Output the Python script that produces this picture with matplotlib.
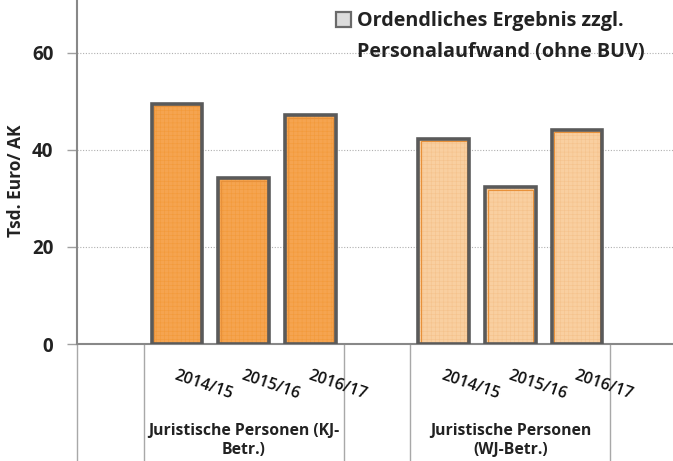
import matplotlib
matplotlib.use("Agg")
import matplotlib.pyplot as plt
from matplotlib.patches import Patch, Rectangle
from matplotlib.legend_handler import HandlerPatch
from matplotlib.transforms import blended_transform_factory

plt.rcParams['font.family'] = ['Open Sans', 'DejaVu Sans']

years = ["2014/15", "2015/16", "2016/17"]
groups = ["Juristische Personen (KJ-\nBetr.)", "Juristische Personen\n(WJ-Betr.)"]
values_kj = [49.5, 34.2, 47.2]
values_wj = [42.3, 32.3, 44.2]
legend_label = "Ordendliches Ergebnis zzgl.\nPersonalaufwand (ohne BUV)"
y_ticks = [0, 20, 40, 60]
y_label = "Tsd. Euro/ AK"

fig = plt.figure(figsize=(6.73, 4.61), dpi=100)
ax = fig.add_axes([77/673, (461-344)/461, 1-77/673, 344/461])

slots_kj = [1, 2, 3]
slots_wj = [5, 6, 7]
width = 0.76
fills = ['#F5A450', '#F9CFA0']
hatch_cols = ['#F39A3A', '#F5C28C']
plt.rcParams['hatch.linewidth'] = 0.4

for slots, vals, fc, hc in [(slots_kj, values_kj, fills[0], hatch_cols[0]),
                            (slots_wj, values_wj, fills[1], hatch_cols[1])]:
    ax.bar(slots, vals, width=width, color=fc, linewidth=0, zorder=3)
    ax.bar(slots, vals, width=width, color='none', edgecolor=hc, linewidth=0, hatch='++++', zorder=3.2)
    ax.bar(slots, [v - 0.55 for v in vals], width=width - 0.075, color='none', edgecolor='#E8913A',
           linewidth=0.8, zorder=3.4)
    ax.bar(slots, vals, width=width, color='none', edgecolor='#5A5A5A', linewidth=2.6, zorder=3.6)

ax.set_xlim(-0.5, 8.44)
ax.set_ylim(0, 70.9)
ax.set_yticks(y_ticks)
ax.set_yticklabels([str(t) for t in y_ticks], fontsize=13.5, fontweight='bold', color='#222222')
ax.tick_params(axis='y', length=7, width=1, color='#A0A0A0', pad=10)
ax.set_xticks([])
ax.grid(axis='y', linestyle=(0, (1, 1.5)), color='#B0B0B0', linewidth=0.8, zorder=0)
for s in ['top', 'right']:
    ax.spines[s].set_visible(False)
ax.spines['left'].set_color('#888888')
ax.spines['left'].set_linewidth(1.5)
ax.spines['bottom'].set_color('#888888')
ax.spines['bottom'].set_linewidth(1.5)

ax.set_ylabel(y_label, fontsize=12.5, fontweight='bold', color='#222222')
ax.yaxis.set_label_coords(-0.087, 0.475)

trans = blended_transform_factory(ax.transData, ax.transAxes)
for xs in [-0.5, 0.5, 3.5, 4.5, 7.5]:
    ax.plot([xs, xs], [0, -117/344], transform=trans, color='#A8A8A8', linewidth=1.0, clip_on=False)

for slots in (slots_kj, slots_wj):
    for s, yr in zip(slots, years):
        ax.text(s - 0.03, -0.09, yr, transform=trans, rotation=-19, rotation_mode='anchor',
                ha='left', va='center', fontsize=11.5, fontweight='semibold', color='#111111')

for slots, g in zip((slots_kj, slots_wj), groups):
    ax.text(sum(slots)/3, -0.28, g, transform=trans, ha='center', va='center',
            fontsize=11.3, fontweight='bold', color='#222222', linespacing=1.3)


def shifted_square(legend, orig_handle, xdescent, ydescent, width, height, fontsize):
    return Rectangle((-xdescent, -ydescent + 1.15 * height), width, height)


handle = Patch(facecolor='#DCDCDC', edgecolor='#6A6A6A', linewidth=1.6)
leg = fig.legend([handle], [legend_label], loc='upper left', bbox_to_anchor=(336/673, 1 - 11/461),
                 frameon=False, prop={'weight': 'bold', 'size': 14.2}, handlelength=0.78,
                 handleheight=0.78, handletextpad=0.3, borderpad=0, borderaxespad=0,
                 handler_map={Patch: HandlerPatch(patch_func=shifted_square)})
for t in leg.get_texts():
    t.set_ha('left')
    t.set_color('#222222')
    t.set_linespacing(1.7)

fig.savefig('out.png', dpi=100)
